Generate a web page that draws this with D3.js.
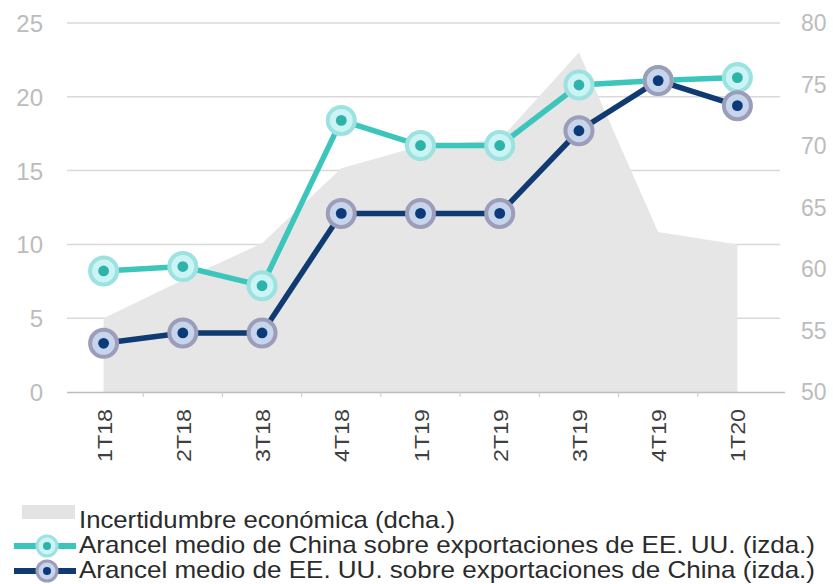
<!DOCTYPE html>
<html>
<head>
<meta charset="utf-8">
<script src="https://cdn.jsdelivr.net/npm/d3@7"></script>
<style>
  body { margin: 0; background: #fff; }
  svg text { font-family: "Liberation Sans", Arial, sans-serif; }
</style>
</head>
<body>
<div id="chart"></div>
<script>
"use strict";

// data
var quarters = ["1T18", "2T18", "3T18", "4T18", "1T19", "2T19", "3T19", "4T19", "1T20"];
var incertidumbre = [56.0, 59.1, 62.1, 68.2, 70.0, 70.5, 77.6, 63.0, 62.0];   // right axis
var arancelChina = [8.2, 8.5, 7.2, 18.4, 16.7, 16.7, 20.8, 21.1, 21.3];       // left axis
var arancelEEUU = [3.3, 4.0, 4.0, 12.1, 12.1, 12.1, 17.7, 21.1, 19.4];        // left axis
var leftTicks = [0, 5, 10, 15, 20, 25];
var rightTicks = [50, 55, 60, 65, 70, 75, 80];
var legendLabels = [
  "Incertidumbre económica (dcha.)",
  "Arancel medio de China sobre exportaciones de EE. UU. (izda.)",
  "Arancel medio de EE. UU. sobre exportaciones de China (izda.)"
];

var width = 833, height = 584,
    teal = "#3cc6bb", navy = "#0f3a72";

var svg = d3.select("#chart").append("svg")
    .attr("width", width)
    .attr("height", height);

var x = d3.scaleBand().domain(quarters).range([64, 777]),
    yL = d3.scaleLinear().domain([0, 25]).range([392, 23]),
    yR = d3.scaleLinear().domain([50, 80]).range([392, 23]);

var cx = function(i) { return x(quarters[i]) + x.bandwidth() / 2; };

// grid lines (left axis)
svg.append("g").selectAll("line")
    .data(leftTicks.filter(function(d) { return d > 0; }))
  .enter().append("line")
    .attr("x1", 67).attr("x2", 780)
    .attr("y1", function(d) { return yL(d); })
    .attr("y2", function(d) { return yL(d); })
    .style("stroke", "#d9d9d9")
    .style("stroke-width", 1.5);

// area (right axis)
var area = d3.area()
    .x(function(d, i) { return cx(i); })
    .y0(yR(50))
    .y1(function(d) { return yR(d); });

svg.append("path")
    .datum(incertidumbre)
    .attr("d", area)
    .style("fill", "#e6e6e6");

// x axis
svg.append("line")
    .attr("x1", 67).attr("x2", 785)
    .attr("y1", 392.5).attr("y2", 392.5)
    .style("stroke", "#bdbdbd")
    .style("stroke-width", 1.5);

svg.append("g").selectAll("line")
    .data(quarters.slice(1))
  .enter().append("line")
    .attr("x1", function(d) { return x(d); })
    .attr("x2", function(d) { return x(d); })
    .attr("y1", 392).attr("y2", 397)
    .style("stroke", "#c8c8c8");

svg.append("g").selectAll("text")
    .data(quarters)
  .enter().append("text")
    .attr("transform", function(d) { return "translate(" + (x(d) + x.bandwidth() / 2 + 8) + ",409) rotate(-90)"; })
    .attr("text-anchor", "end")
    .attr("textLength", 53)
    .attr("lengthAdjust", "spacingAndGlyphs")
    .style("font-size", "21px")
    .style("fill", "#404040")
    .text(function(d) { return d; });

// y tick labels
svg.append("g").selectAll("text")
    .data(leftTicks)
  .enter().append("text")
    .attr("x", 43)
    .attr("y", function(d) { return yL(d) + 9; })
    .attr("text-anchor", "end")
    .style("font-size", "24px")
    .style("fill", "#bcbcbc")
    .text(function(d) { return d; });

svg.append("g").selectAll("text")
    .data(rightTicks)
  .enter().append("text")
    .attr("x", 801)
    .attr("y", function(d) { return yR(d) + 8; })
    .style("font-size", "23px")
    .style("fill", "#bcbcbc")
    .text(function(d) { return d; });

// lines with markers
var line = d3.line()
    .x(function(d, i) { return cx(i); })
    .y(function(d) { return yL(d); });

var series = [
  { values: arancelChina, color: teal, ring: "#9be2e1", fillc: "#cdf4f4", dot: "#2db3a9" },
  { values: arancelEEUU, color: navy, ring: "#9c9db8", fillc: "#c6d5ec", dot: "#0c3a78" }
];

function marker(g, px, py, s, r) {
  g.append("circle")
      .attr("cx", px).attr("cy", py).attr("r", r)
      .style("fill", s.fillc)
      .style("stroke", s.ring)
      .style("stroke-width", r * 0.3);
  g.append("circle")
      .attr("cx", px).attr("cy", py).attr("r", r * 0.4)
      .style("fill", s.dot);
}

series.forEach(function(s) {
  var g = svg.append("g");
  g.append("path")
      .datum(s.values)
      .attr("d", line)
      .style("fill", "none")
      .style("stroke", s.color)
      .style("stroke-width", 5.5);
  s.values.forEach(function(v, i) { marker(g, cx(i), yL(v), s, 13.5); });
});

// legend
var lg = svg.append("g");
lg.append("rect")
    .attr("x", 22).attr("y", 505)
    .attr("width", 53).attr("height", 14)
    .style("fill", "#e3e3e3");

series.forEach(function(s, i) {
  var ly = 546 + i * 25;
  lg.append("line")
      .attr("x1", 14).attr("x2", 76)
      .attr("y1", ly).attr("y2", ly)
      .style("stroke", s.color)
      .style("stroke-width", 6);
  marker(lg, 47, ly, s, 10);
});

lg.selectAll("text.leg")
    .data(legendLabels)
  .enter().append("text")
    .attr("class", "leg")
    .attr("x", 79)
    .attr("y", function(d, i) { return 528 + i * 25; })
    .attr("textLength", function(d, i) { return i === 0 ? 376 : 736; })
    .attr("lengthAdjust", "spacingAndGlyphs")
    .style("font-size", "24px")
    .style("fill", "#2b2b2b")
    .text(function(d) { return d; });
</script>
</body>
</html>
